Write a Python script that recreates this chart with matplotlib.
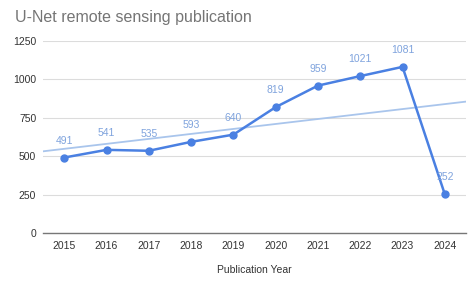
import numpy as np
import matplotlib.pyplot as plt

plt.rcParams['font.family'] = ['Liberation Sans', 'DejaVu Sans']

years = ['2015', '2016', '2017', '2018', '2019', '2020', '2021', '2022', '2023', '2024']
pubs = [491, 541, 535, 593, 640, 819, 959, 1021, 1081, 252]

x = np.arange(len(years))

fig = plt.figure(figsize=(4.74, 2.88), dpi=100)
ax = fig.add_axes([0.091, 0.191, 0.892, 0.667])

# linear trendline over the data
k, b = np.polyfit(x, pubs, 1)
tx = np.array([-0.5, len(years) - 0.5])
ax.plot(tx, k * tx + b, color='#a9c5ec', lw=1.3, zorder=2)

ax.plot(x, pubs, color='#4a80e2', lw=1.8, marker='o', ms=5, zorder=3)
for xi, v in zip(x, pubs):
    ax.annotate(str(v), (xi, v), xytext=(0, 8.5), textcoords='offset points',
                ha='center', va='bottom', fontsize=7.5, color='#7fa3dd')

ax.set_xlim(-0.5, len(years) - 0.5)
ax.set_ylim(0, 1250)
ax.set_yticks([0, 250, 500, 750, 1000, 1250])
ax.set_xticks(x)
ax.set_xticklabels(years)
ax.tick_params(axis='both', length=0, labelsize=7.5, colors='#333333')
ax.tick_params(axis='x', pad=6)
ax.tick_params(axis='y', pad=5)
ax.grid(axis='y', color='#dcdcdc', lw=0.8)
ax.set_axisbelow(True)
for s in ['top', 'right', 'left']:
    ax.spines[s].set_visible(False)
ax.spines['bottom'].set_color('#777777')
ax.spines['bottom'].set_linewidth(1.0)

ax.set_xlabel('Publication Year', fontsize=7.5, color='#333333', labelpad=10)
fig.text(0.032, 0.94, 'U-Net remote sensing publication', fontsize=11.5,
         color='#757575', ha='left', va='center')

fig.savefig('out.png', dpi=100)
